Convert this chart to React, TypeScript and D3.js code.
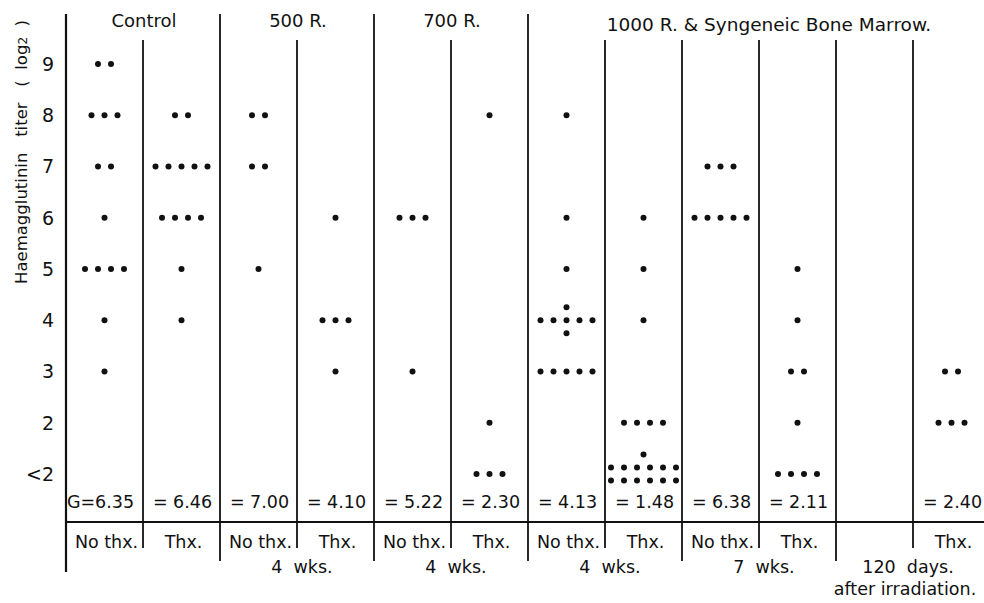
import * as d3 from "d3";

// column ids, left to right
const columns = ["ctlNo", "ctlThx", "r500No", "r500Thx", "r700No", "r700Thx", "bm4No", "bm4Thx", "bm7No", "bm7Thx", "bm120No", "bm120Thx"];

const groupTitles = [
  { text: "Control", from: 0, to: 1 },
  { text: "500 R.", from: 2, to: 3 },
  { text: "700 R.", from: 4, to: 5 },
  { text: "1000 R. & Syngeneic Bone Marrow.", from: 6, to: 11 },
];

const treatmentLabels = ["No thx.", "Thx.", "No thx.", "Thx.", "No thx.", "Thx.", "No thx.", "Thx.", "No thx.", "Thx.", "", "Thx."];
const meanLabels = ["G=6.35", "= 6.46", "= 7.00", "= 4.10", "= 5.22", "= 2.30", "= 4.13", "= 1.48", "= 6.38", "= 2.11", "", "= 2.40"];

const timeLabels = [
  { text: ["4  wks."], from: 2, to: 3 },
  { text: ["4  wks."], from: 4, to: 5 },
  { text: ["4  wks."], from: 6, to: 7 },
  { text: ["7  wks."], from: 8, to: 9 },
  { text: ["120  days.", "after irradiation."], from: 10, to: 11 },
];

const yTicks = [1, 2, 3, 4, 5, 6, 7, 8, 9];
const yTickLabel = (v: number) => (v === 1 ? "<2" : String(v));

// titre clusters per column: [log2 titre (1 = <2), dots per row]
type Cluster = [number, number | number[]];
const ctlNo: Cluster[] = [[9, 2], [8, 3], [7, 2], [6, 1], [5, 4], [4, 1], [3, 1]];
const ctlThx: Cluster[] = [[8, 2], [7, 5], [6, 4], [5, 1], [4, 1]];
const r500No: Cluster[] = [[8, 2], [7, 2], [5, 1]];
const r500Thx: Cluster[] = [[6, 1], [4, 3], [3, 1]];
const r700No: Cluster[] = [[6, 3], [3, 1]];
const r700Thx: Cluster[] = [[8, 1], [2, 1], [1, 3]];
const bm4No: Cluster[] = [[8, 1], [6, 1], [5, 1], [4, [1, 5, 1]], [3, 5]];
const bm4Thx: Cluster[] = [[6, 1], [5, 1], [4, 1], [2, 4], [1, [1, 6, 6]]];
const bm7No: Cluster[] = [[7, 3], [6, 5]];
const bm7Thx: Cluster[] = [[5, 1], [4, 1], [3, 2], [2, 1], [1, 4]];
const bm120No: Cluster[] = [];
const bm120Thx: Cluster[] = [[3, 2], [2, 3]];

const columnData: Cluster[][] = [ctlNo, ctlThx, r500No, r500Thx, r700No, r700Thx, bm4No, bm4Thx, bm7No, bm7Thx, bm120No, bm120Thx];

const W = 984;
const H = 603;
const FONT = "'DejaVu Sans', sans-serif";
const INK = "#111";

export default function App() {
  const x = d3.scaleBand<string>().domain(columns).range([66, 990]);
  const y = d3.scaleLinear().domain([1, 9]).range([474, 64]);
  const bw = x.bandwidth();
  const dotGap = 13;
  const rowGap = 13;
  const baseY = 522;

  const dots: { cx: number; cy: number }[] = [];
  columnData.forEach((clusters, ci) => {
    const cx0 = (x(columns[ci]) as number) + bw / 2;
    clusters.forEach(([v, n]) => {
      const rows = Array.isArray(n) ? n : [n];
      // stacks on the bottom tick are lifted half a row, clear of the mean labels
      const lift = v === 1 && rows.length > 1 ? 0.5 : 0;
      rows.forEach((m, ri) => {
        const cy = y(v) + (ri - (rows.length - 1) / 2 - lift) * rowGap;
        for (let j = 0; j < m; j++) {
          dots.push({ cx: cx0 + (j - (m - 1) / 2) * dotGap, cy });
        }
      });
    });
  });

  // separator lines: group borders reach the top, inner borders start lower
  const majorTop = new Set([0, 2, 4, 6]);
  const longBottom = new Set([0, 2, 4, 6, 8, 10]);
  const lines = columns.map((c, i) => {
    const lx = x(c) as number;
    const top = majorTop.has(i) ? 14 : 40;
    const bottom = i === 0 ? 572 : longBottom.has(i) ? 561 : 548;
    return { lx, top, bottom };
  });

  const spanCenter = (from: number, to: number) =>
    ((x(columns[from]) as number) + (x(columns[to]) as number) + bw) / 2;

  return (
    <svg width={W} height={H} style={{ position: "absolute", left: 0, top: 0, background: "#fff" }} fontFamily={FONT}>
      <rect width={W} height={H} fill="#fff" />
      {lines.map((l, i) => (
        <line key={i} x1={l.lx} x2={l.lx} y1={l.top} y2={l.bottom} stroke={INK} strokeWidth={i === 0 ? 2.2 : 1.8} />
      ))}
      <line x1={66} x2={W} y1={baseY} y2={baseY} stroke={INK} strokeWidth={2.2} />

      {groupTitles.map((g, i) => (
        <text key={i} x={spanCenter(g.from, g.to) + (i === 3 ? 10 : 1)} y={i === 3 ? 31 : 27} textAnchor="middle" fontSize={i === 3 ? 18.5 : 18} fill={INK}>
          {g.text}
        </text>
      ))}

      {yTicks.map((t) => (
        <text key={t} x={54} y={y(t)} dy="0.36em" textAnchor="end" fontSize={19} fill={INK}>
          {yTickLabel(t)}
        </text>
      ))}

      <text transform={`translate(27,${152}) rotate(-90)`} textAnchor="middle" fontSize={16.5} fill={INK} style={{ whiteSpace: "pre" }}>
        {"Haemagglutinin   titer   (  log"}
        <tspan fontSize={12}>2</tspan>
        {"  )"}
      </text>

      {dots.map((d, i) => (
        <circle key={i} cx={d.cx} cy={d.cy} r={3} fill={INK} />
      ))}

      {meanLabels.map((m, i) => (
        <text key={i} x={(x(columns[i]) as number) + bw / 2 + (i === 0 ? -4 : 1)} y={508} textAnchor="middle" fontSize={17.5} fill={INK}>
          {m}
        </text>
      ))}

      {treatmentLabels.map((t, i) => (
        <text key={i} x={(x(columns[i]) as number) + bw / 2 + 2} y={548} textAnchor="middle" fontSize={17.5} fill={INK}>
          {t}
        </text>
      ))}

      {timeLabels.map((t, i) => (
        <text key={i} y={573} textAnchor="middle" fontSize={17.5} fill={INK} style={{ whiteSpace: "pre" }}>
          {t.text.map((s, k) => (
            <tspan key={k} x={spanCenter(t.from, t.to) + (t.text.length > 1 ? (k === 0 ? -5 : -8) : 5)} dy={k === 0 ? 0 : 22}>
              {s}
            </tspan>
          ))}
        </text>
      ))}
    </svg>
  );
}
